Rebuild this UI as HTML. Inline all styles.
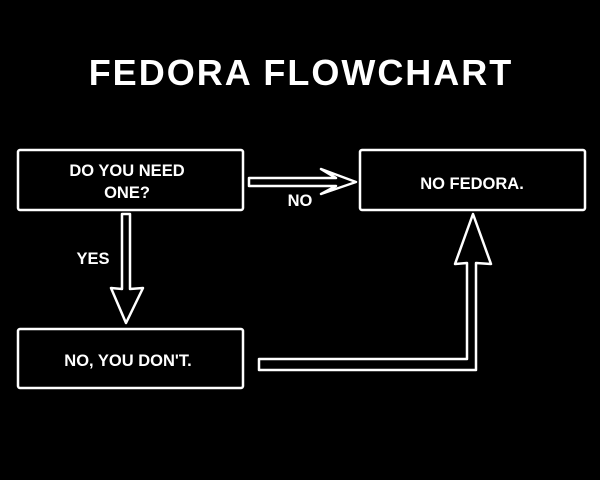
<!DOCTYPE html>
<html><head><style>
html,body{margin:0;padding:0;background:#000;}
svg{display:block}
text{font-family:"Liberation Sans",sans-serif;fill:#fff;font-weight:bold;}
</style></head><body>
<svg width="600" height="480" viewBox="0 0 600 480" xmlns="http://www.w3.org/2000/svg">
<rect width="600" height="480" fill="#000"/>
<text x="301" y="85" font-size="36" text-anchor="middle" letter-spacing="2">FEDORA FLOWCHART</text>
<g fill="none" stroke="#fff" stroke-width="2.5" stroke-linejoin="round">
<rect x="18" y="150" width="225" height="60" rx="2"/>
<rect x="360" y="150" width="225" height="60" rx="2"/>
<rect x="18" y="329" width="225" height="59" rx="2"/>
<path d="M249,178 L336,178 L321,169 L356,182 L321,194 L336,186 L249,186 Z" fill="#000"/>
<path d="M122,214 L130,214 L130,289 L143,288 L126,323 L111,288 L122,289 Z" fill="#000"/>
<path d="M259,359 L467,359 L467,263 L455,264 L473,214 L491,264 L476,263 L476,370 L259,370 Z" fill="#000"/>
</g>
<g font-size="16.5" text-anchor="middle">
<text x="127" y="176">DO YOU NEED</text>
<text x="127" y="198">ONE?</text>
<text x="472" y="189">NO FEDORA.</text>
<text x="128" y="366">NO, YOU DON'T.</text>
<text x="300" y="206">NO</text>
<text x="93" y="264">YES</text>
</g>
</svg>
</body></html>
